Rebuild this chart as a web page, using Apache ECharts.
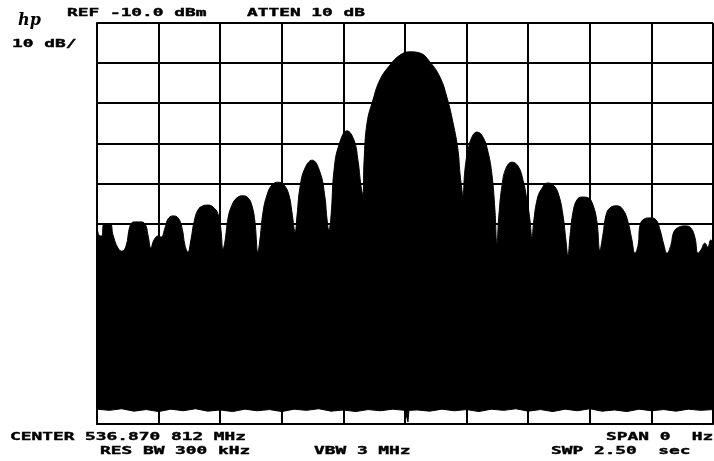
<!DOCTYPE html>
<html>
<head>
<meta charset="utf-8">
<script src="https://cdn.jsdelivr.net/npm/echarts@6/dist/echarts.min.js"></script>
<style>
  html, body { margin: 0; padding: 0; background: #fff; }
  #main { width: 714px; height: 461px; }
</style>
</head>
<body>
<div id="main"></div>
<script>
// sweep time (s) and upper envelope of the trace (dBm)
const upperTime = [
  0.000, 0.012, 0.020, 0.028, 0.053, 0.065, 0.085, 0.101, 0.118, 0.134, 0.150, 0.175, 0.195, 0.207, 0.219, 0.231, 0.248, 0.260,
  0.276, 0.288, 0.308, 0.329, 0.345, 0.357, 0.369,
  0.381, 0.394, 0.410, 0.430, 0.450, 0.471, 0.491, 0.503, 0.511,
  0.519, 0.532, 0.548, 0.568, 0.592, 0.613, 0.629, 0.641, 0.653,
  0.661, 0.674, 0.690, 0.710, 0.735, 0.759, 0.779, 0.791, 0.804,
  0.812, 0.824, 0.844, 0.873, 0.905, 0.925, 0.933, 0.941,
  0.950, 0.962, 0.982, 1.015, 1.043, 1.059, 1.071, 1.079,
  1.084, 1.096, 1.120, 1.148, 1.189, 1.230, 1.270, 1.311, 1.351, 1.392, 1.420, 1.445, 1.465, 1.473, 1.481, 1.485,
  1.493, 1.506, 1.522, 1.542, 1.566, 1.587, 1.603, 1.615, 1.623,
  1.631, 1.644, 1.660, 1.684, 1.709, 1.729, 1.745, 1.757, 1.765,
  1.773, 1.786, 1.802, 1.830, 1.855, 1.875, 1.891, 1.903, 1.911,
  1.920, 1.932, 1.948, 1.968, 1.993, 2.013, 2.029, 2.041,
  2.053, 2.066, 2.082, 2.110, 2.135, 2.155, 2.171, 2.183,
  2.196, 2.204, 2.220, 2.244, 2.269, 2.285, 2.301, 2.313,
  2.329, 2.341, 2.362, 2.386, 2.410, 2.427, 2.439,
  2.451, 2.467, 2.479, 2.491, 2.500
];
const upperLevel = [
  -61.1, -63.1, -63.1, -60.1, -60.1, -62.9, -66.1, -66.9, -65.6, -60.6, -59.6, -59.6, -60.1, -62.9, -66.1, -64.1, -63.1, -63.4,
  -61.1, -58.9, -58.1, -58.6, -61.1, -65.4, -67.1,
  -64.1, -59.6, -56.6, -55.6, -55.4, -55.9, -57.6, -61.6, -66.4,
  -64.6, -58.6, -55.4, -53.6, -53.1, -53.6, -55.6, -59.6, -67.1,
  -64.1, -57.1, -52.9, -50.4, -49.7, -50.4, -52.9, -57.1, -62.1,
  -57.9, -50.9, -46.2, -44.2, -47.2, -53.4, -58.6, -61.6,
  -57.9, -46.7, -40.4, -36.9, -39.2, -44.2, -50.4, -52.9,
  -44.2, -34.9, -29.2, -24.2, -20.5, -18.0, -17.2, -17.5, -19.7, -23.5, -28.5, -34.9, -41.7, -47.4, -51.6, -53.1,
  -46.7, -41.7, -38.4, -37.2, -38.4, -42.2, -47.9, -56.6, -64.9,
  -57.9, -50.4, -46.2, -44.7, -45.7, -49.2, -54.1, -59.1, -63.4,
  -59.1, -54.1, -51.6, -49.9, -50.6, -53.1, -57.9, -64.1, -67.9,
  -62.9, -57.1, -54.1, -53.4, -53.6, -55.4, -59.6, -66.6,
  -62.9, -57.9, -56.1, -55.6, -56.6, -59.6, -64.1, -67.4,
  -65.4, -60.4, -58.9, -58.6, -59.1, -61.6, -65.4, -67.4,
  -65.4, -62.1, -60.9, -60.6, -61.1, -63.6, -67.4,
  -66.6, -64.9, -65.9, -64.1, -64.6
];

// lower (noise) edge of the filled trace
const lowerTime = [
  0.00, 0.05, 0.10, 0.15, 0.20, 0.25, 0.30, 0.35, 0.40, 0.45, 0.50, 0.55, 0.60, 0.65, 0.70, 0.75, 0.80, 0.85, 0.90, 0.95,
  1.00, 1.05, 1.10, 1.15, 1.20, 1.25, 1.258, 1.262, 1.266, 1.30, 1.35, 1.40, 1.45, 1.50, 1.55, 1.60, 1.65, 1.70, 1.75,
  1.80, 1.85, 1.90, 1.95, 2.00, 2.05, 2.10, 2.15, 2.20, 2.25, 2.30, 2.35, 2.40, 2.45, 2.50
];
const lowerLevel = [
  -106.3, -106.6, -106.2, -106.8, -106.4, -106.9, -106.3, -106.7, -106.2, -106.8, -106.5, -106.9, -106.3, -106.7, -106.4, -106.9, -106.3, -106.6, -106.2, -106.8,
  -106.5, -106.9, -106.4, -106.7, -106.3, -106.6, -106.6, -109.5, -106.6, -106.5, -106.8, -106.3, -106.7, -106.4, -106.9, -106.3, -106.6, -106.2, -106.8,
  -106.4, -106.9, -106.3, -106.7, -106.2, -106.8, -106.5, -106.9, -106.3, -106.7, -106.4, -106.8, -106.3, -106.6, -106.4
];

// annotation text of the analyzer screen: [text, x, y]
const screenText = [
  ['REF -10.0 dBm', 67, 13],
  ['ATTEN 10 dB', 247, 13],
  ['10 dB/', 12, 44],
  ['CENTER 536.870 812 MHz', 10, 437],
  ['RES BW 300 kHz', 100, 451],
  ['VBW 3 MHz', 314, 451],
  ['SPAN 0  Hz', 606, 437],
  ['SWP 2.50  sec', 551, 451]
];

const chart = echarts.init(document.getElementById('main'), null, { renderer: 'canvas' });

const graphics = screenText.map(item => ({
  type: 'text',
  x: item[1],
  y: item[2],
  scaleX: 1.62,
  style: {
    text: item[0],
    font: 'bold 11px "DejaVu Sans Mono"',
    fill: '#000',
    stroke: '#000',
    lineWidth: 0.4,
    textAlign: 'left',
    textVerticalAlign: 'middle'
  }
}));
// hp logo
graphics.push({
  type: 'text',
  x: 18,
  y: 21,
  style: {
    text: 'hp',
    font: 'italic bold 16px "DejaVu Serif"',
    fill: '#000',
    textAlign: 'left',
    textVerticalAlign: 'middle'
  }
});

const option = {
  animation: false,
  backgroundColor: '#fff',
  grid: { left: 97, top: 23, width: 616, height: 401 },
  graphic: graphics,
  xAxis: {
    type: 'value',
    min: 0,
    max: 2.5,
    interval: 0.25,
    z: 5,
    axisLine: { show: true, lineStyle: { color: '#000', width: 2 } },
    axisTick: { show: false },
    axisLabel: { show: false },
    splitLine: { show: true, lineStyle: { color: '#000', width: 2 } }
  },
  yAxis: {
    type: 'value',
    min: -110,
    max: -10,
    interval: 10,
    z: 5,
    axisLine: { show: true, lineStyle: { color: '#000', width: 2 } },
    axisTick: { show: false },
    axisLabel: { show: false },
    splitLine: { show: true, lineStyle: { color: '#000', width: 2 } }
  },
  series: [
    {
      type: 'line',
      data: upperTime.map((t, i) => [t, upperLevel[i]]),
      symbol: 'none',
      smooth: 0.45,
      lineStyle: { color: '#000', width: 1 },
      areaStyle: { color: '#000', opacity: 1, origin: 'start' },
      silent: true
    },
    {
      type: 'line',
      data: lowerTime.map((t, i) => [t, lowerLevel[i]]),
      symbol: 'none',
      lineStyle: { color: '#000', width: 1 },
      areaStyle: { color: '#fff', opacity: 1, origin: 'start' },
      silent: true
    }
  ]
};

chart.setOption(option);
</script>
</body>
</html>
